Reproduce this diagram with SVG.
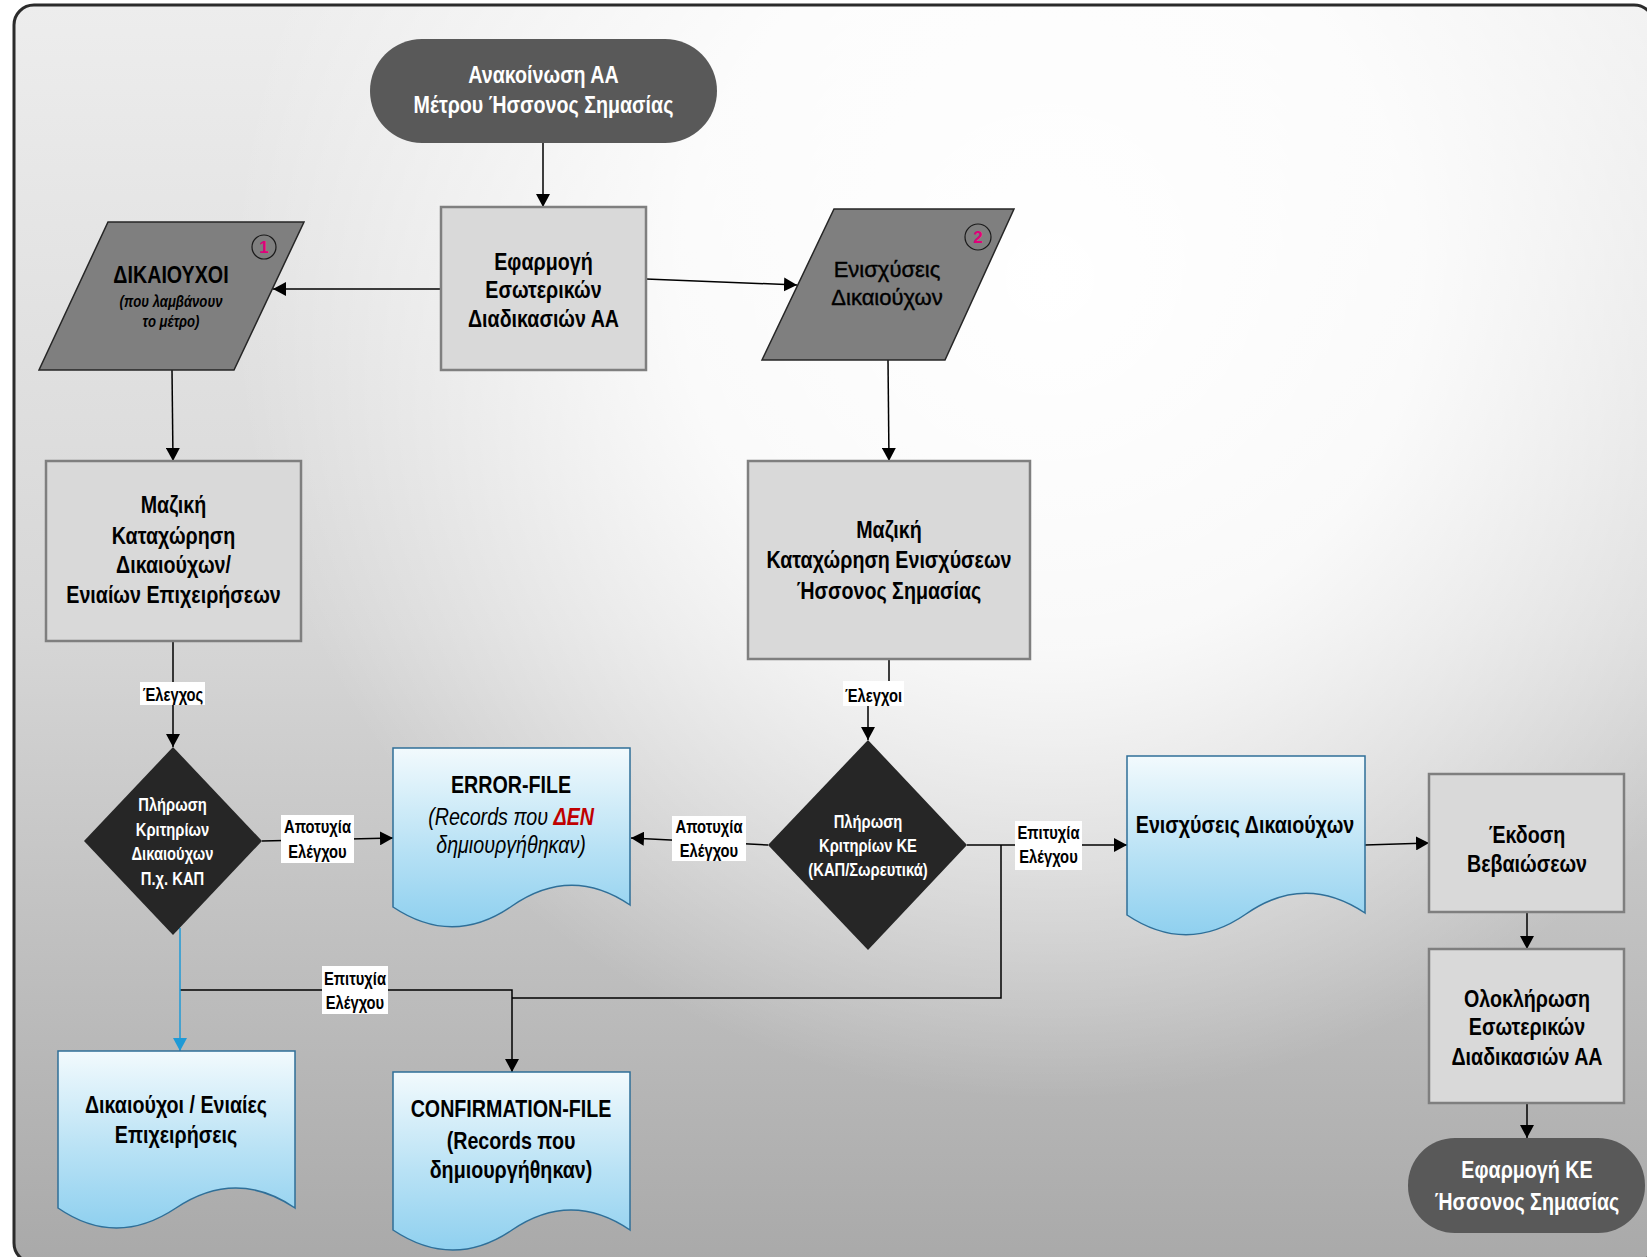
<svg xmlns="http://www.w3.org/2000/svg" width="1647" height="1257" viewBox="0 0 1647 1257">
<style>
.n{font-family:"Liberation Sans Narrow","Arial Narrow","Liberation Sans",Arial,sans-serif;font-weight:bold;text-anchor:middle;fill:#000;transform:scaleX(0.82);transform-box:fill-box;transform-origin:center}
.r{font-family:"Liberation Sans",Arial,sans-serif;text-anchor:middle;fill:#000;stroke:#000;stroke-width:0.4}
.wt{fill:#fff}
.f24{font-size:24px}
.f22{font-size:22px}
.f18{font-size:18px}
.f16{font-size:16px}
.it{font-style:italic}
.reg{font-weight:normal}
.proc{fill:#d9d9d9;stroke:#7f7f7f;stroke-width:2.5}
.term{fill:#595959}
.para{fill:#7f7f7f;stroke:#262626;stroke-width:1.5}
.dia{fill:#262626}
.doc{fill:url(#docg);stroke:#2f6f98;stroke-width:1.5}
.num{fill:none;stroke:#1a1a1a;stroke-width:1.2}
.numt{font-family:"Liberation Sans",Arial,sans-serif;font-weight:bold;font-size:17px;fill:#e0007a;text-anchor:middle}
.ln{fill:none;stroke:#000;stroke-width:1.5}
.blue{fill:none;stroke:#1f9ad6;stroke-width:1.5}
.lbg{fill:#fff}
</style>
<defs>
<linearGradient id="bgl" x1="0" y1="0" x2="0" y2="1">
<stop offset="0" stop-color="#ededed"/>
<stop offset="0.5" stop-color="#d6d6d6"/>
<stop offset="1" stop-color="#a9a9a9"/>
</linearGradient>
<radialGradient id="bgr" gradientUnits="userSpaceOnUse" cx="1050" cy="280" r="820">
<stop offset="0" stop-color="#fff" stop-opacity="1"/>
<stop offset="0.45" stop-color="#fff" stop-opacity="0.85"/>
<stop offset="1" stop-color="#fff" stop-opacity="0"/>
</radialGradient>
<linearGradient id="docg" x1="0" y1="0" x2="0" y2="1">
<stop offset="0" stop-color="#f2fafd"/>
<stop offset="0.55" stop-color="#b9e2f5"/>
<stop offset="1" stop-color="#8fd0ef"/>
</linearGradient>
<marker id="ah" markerUnits="userSpaceOnUse" markerWidth="14" markerHeight="14" refX="13" refY="7" orient="auto">
<path d="M0,0 L13,7 L0,14 z" fill="#000"/>
</marker>
<marker id="ahb" markerUnits="userSpaceOnUse" markerWidth="14" markerHeight="14" refX="13" refY="7" orient="auto">
<path d="M0,0 L13,7 L0,14 z" fill="#1f9ad6"/>
</marker>
</defs>

<g id="background">
<rect x="14" y="5" width="1640" height="1258" rx="20" fill="url(#bgl)"/>
<rect x="14" y="5" width="1640" height="1258" rx="20" fill="url(#bgr)" stroke="#2b2b2b" stroke-width="3"/>
</g>

<g id="connectors">
<path class="ln" d="M543,143 V207" marker-end="url(#ah)"/>
<path class="ln" d="M441,289 H273" marker-end="url(#ah)"/>
<path class="ln" d="M646,279 L797,285" marker-end="url(#ah)"/>
<path class="ln" d="M172,370 L173,461" marker-end="url(#ah)"/>
<path class="ln" d="M888,360 L889,461" marker-end="url(#ah)"/>
<path class="ln" d="M173,641 V747" marker-end="url(#ah)"/>
<path class="ln" d="M889,659 V693 H868 V740" marker-end="url(#ah)"/>
<path class="ln" d="M262,841 L393,838" marker-end="url(#ah)"/>
<path class="ln" d="M768,845 L631,838" marker-end="url(#ah)"/>
<path class="ln" d="M967,845 H1127" marker-end="url(#ah)"/>
<path class="ln" d="M1001,845 V998 H512"/>
<path class="ln" d="M180,990 H512 V1072" marker-end="url(#ah)"/>
<path class="blue" d="M180,928 V1051" marker-end="url(#ahb)"/>
<path class="ln" d="M1365,845 L1429,843" marker-end="url(#ah)"/>
<path class="ln" d="M1527,912 V949" marker-end="url(#ah)"/>
<path class="ln" d="M1527,1103 V1138" marker-end="url(#ah)"/>

<g id="label-elegxos">
<rect class="lbg" x="140" y="682" width="65" height="23"/>
<text class="n f18" x="173" y="701">Έλεγχος</text>
</g>
<g id="label-elegxoi">
<rect class="lbg" x="843" y="681" width="61" height="25"/>
<text class="n f18" x="873.5" y="702">Έλεγχοι</text>
</g>
<g id="label-fail-left">
<rect class="lbg" x="281" y="815" width="73" height="48"/>
<text class="n f18" x="317.5" y="833">Αποτυχία</text>
<text class="n f18" x="317.5" y="858">Ελέγχου</text>
</g>
<g id="label-fail-right">
<rect class="lbg" x="672" y="816" width="74" height="45"/>
<text class="n f18" x="709" y="833">Αποτυχία</text>
<text class="n f18" x="709" y="857">Ελέγχου</text>
</g>
<g id="label-success-right">
<rect class="lbg" x="1015" y="821" width="67" height="49"/>
<text class="n f18" x="1048.5" y="839">Επιτυχία</text>
<text class="n f18" x="1048.5" y="863">Ελέγχου</text>
</g>
<g id="label-success-bottom">
<rect class="lbg" x="322" y="966" width="66" height="48"/>
<text class="n f18" x="355" y="985">Επιτυχία</text>
<text class="n f18" x="355" y="1009">Ελέγχου</text>
</g>
</g>

<g id="start">
<rect class="term" x="370" y="39" width="347" height="104" rx="52"/>
<text class="n f24 wt" x="543.5" y="83">Ανακοίνωση ΑΑ</text>
<text class="n f24 wt" x="543.5" y="113">Μέτρου Ήσσονος Σημασίας</text>
</g>

<g id="apply-internal">
<rect class="proc" x="441" y="207" width="205" height="163"/>
<text class="n f24" x="543.5" y="270">Εφαρμογή</text>
<text class="n f24" x="543.5" y="298">Εσωτερικών</text>
<text class="n f24" x="543.5" y="327">Διαδικασιών ΑΑ</text>
</g>

<g id="beneficiaries">
<polygon class="para" points="108,222 304,222 234,370 39,370"/>
<circle class="num" cx="264" cy="247" r="12"/>
<text class="numt" x="264" y="253">1</text>
<text class="n f24" x="171" y="283">ΔΙΚΑΙΟΥΧΟΙ</text>
<text class="n f16 it" x="171" y="307">(που λαμβάνουν</text>
<text class="n f16 it" x="171" y="327">το μέτρο)</text>
</g>

<g id="aid-beneficiaries">
<polygon class="para" points="834,209 1014,209 945,360 762,360"/>
<circle class="num" cx="978" cy="237" r="13"/>
<text class="numt" x="978" y="243">2</text>
<text class="r f22" x="887" y="277">Ενισχύσεις</text>
<text class="r f22" x="887" y="305">Δικαιούχων</text>
</g>

<g id="mass-entry-beneficiaries">
<rect class="proc" x="46" y="461" width="255" height="180"/>
<text class="n f24" x="173.5" y="513">Μαζική</text>
<text class="n f24" x="173.5" y="544">Καταχώρηση</text>
<text class="n f24" x="173.5" y="573">Δικαιούχων/</text>
<text class="n f24" x="173.5" y="603">Ενιαίων Επιχειρήσεων</text>
</g>

<g id="mass-entry-aid">
<rect class="proc" x="748" y="461" width="282" height="198"/>
<text class="n f24" x="889" y="538">Μαζική</text>
<text class="n f24" x="889" y="568">Καταχώρηση Ενισχύσεων</text>
<text class="n f24" x="889" y="599">Ήσσονος Σημασίας</text>
</g>

<g id="decision-beneficiaries">
<polygon class="dia" points="173,747 262,841 173,935 84,841"/>
<text class="n f18 wt" x="172.5" y="811">Πλήρωση</text>
<text class="n f18 wt" x="172.5" y="836">Κριτηρίων</text>
<text class="n f18 wt" x="172.5" y="860">Δικαιούχων</text>
<text class="n f18 wt" x="172.5" y="885">Π.χ. ΚΑΠ</text>
</g>

<g id="decision-aid">
<polygon class="dia" points="868,740 967,845 868,950 768,845"/>
<text class="n f18 wt" x="868" y="828">Πλήρωση</text>
<text class="n f18 wt" x="868" y="852">Κριτηρίων ΚΕ</text>
<text class="n f18 wt" x="868" y="876">(ΚΑΠ/Σωρευτικά)</text>
</g>

<g id="error-file">
<path class="doc" d="M393,748 H630 V905 Q571,865 512,906 T393,907 Z"/>
<text class="n f24" x="511" y="793">ERROR-FILE</text>
<text class="n f24 it reg" x="511" y="825">(Records που <tspan font-weight="bold" fill="#c00000">ΔΕΝ</tspan></text>
<text class="n f24 it reg" x="511" y="853">δημιουργήθηκαν)</text>
</g>

<g id="beneficiaries-file">
<path class="doc" d="M58,1051 H295 V1208 Q236,1168 176,1208 T58,1208 Z"/>
<text class="n f24" x="176" y="1113">Δικαιούχοι / Ενιαίες</text>
<text class="n f24" x="176" y="1143">Επιχειρήσεις</text>
</g>

<g id="confirmation-file">
<path class="doc" d="M393,1072 H630 V1230 Q571,1190 512,1230 T393,1230 Z"/>
<text class="n f24" x="511" y="1117">CONFIRMATION-FILE</text>
<text class="n f24" x="511" y="1149">(Records που</text>
<text class="n f24" x="511" y="1178">δημιουργήθηκαν)</text>
</g>

<g id="aid-file">
<path class="doc" d="M1127,756 H1365 V913 Q1305,873 1246,914 T1127,915 Z"/>
<text class="n f24" x="1245" y="833">Ενισχύσεις Δικαιούχων</text>
</g>

<g id="issue-certificates">
<rect class="proc" x="1429" y="774" width="195" height="138"/>
<text class="n f24" x="1527" y="843">Έκδοση</text>
<text class="n f24" x="1527" y="872">Βεβαιώσεων</text>
</g>

<g id="complete-internal">
<rect class="proc" x="1429" y="949" width="195" height="154"/>
<text class="n f24" x="1527" y="1007">Ολοκλήρωση</text>
<text class="n f24" x="1527" y="1035">Εσωτερικών</text>
<text class="n f24" x="1527" y="1065">Διαδικασιών ΑΑ</text>
</g>

<g id="end">
<rect class="term" x="1408" y="1138" width="237" height="95" rx="47"/>
<text class="n f24 wt" x="1527" y="1178">Εφαρμογή ΚΕ</text>
<text class="n f24 wt" x="1527" y="1210">Ήσσονος Σημασίας</text>
</g>
</svg>
